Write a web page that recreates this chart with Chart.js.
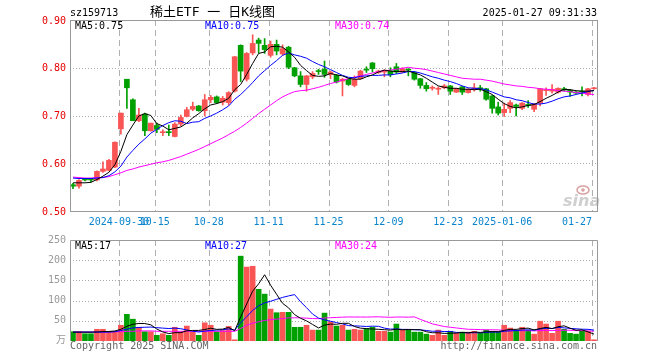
<!DOCTYPE html>
<html><head><meta charset="utf-8">
<script src="https://cdn.jsdelivr.net/npm/chart.js@4.4.1/dist/chart.umd.min.js"></script>
<style>
html,body{margin:0;padding:0;background:#fff;}
#wrap{position:relative;width:660px;height:360px;background:#fff;}
canvas{position:absolute;left:0;top:0;}
</style></head><body>
<div id="wrap"><canvas id="pc" width="660" height="360"></canvas><canvas id="vc" width="660" height="360"></canvas></div>
<script>
const dates = ['2024-09-18','2024-09-19','2024-09-20','2024-09-23','2024-09-24','2024-09-25','2024-09-26','2024-09-27','2024-09-30','2024-10-08',
'2024-10-09','2024-10-10','2024-10-11','2024-10-14','2024-10-15','2024-10-16','2024-10-17','2024-10-18','2024-10-21','2024-10-22',
'2024-10-23','2024-10-24','2024-10-25','2024-10-28','2024-10-29','2024-10-30','2024-10-31','2024-11-01','2024-11-04','2024-11-05',
'2024-11-06','2024-11-07','2024-11-08','2024-11-11','2024-11-12','2024-11-13','2024-11-14','2024-11-15','2024-11-18','2024-11-19',
'2024-11-20','2024-11-21','2024-11-22','2024-11-25','2024-11-26','2024-11-27','2024-11-28','2024-11-29','2024-12-02','2024-12-03',
'2024-12-04','2024-12-05','2024-12-06','2024-12-09','2024-12-10','2024-12-11','2024-12-12','2024-12-13','2024-12-16','2024-12-17',
'2024-12-18','2024-12-19','2024-12-20','2024-12-23','2024-12-24','2024-12-25','2024-12-26','2024-12-27','2024-12-30','2024-12-31',
'2025-01-02','2025-01-03','2025-01-06','2025-01-07','2025-01-08','2025-01-09','2025-01-10','2025-01-13','2025-01-14','2025-01-15',
'2025-01-16','2025-01-17','2025-01-20','2025-01-21','2025-01-22','2025-01-23','2025-01-24','2025-01-27'];

const openP = [0.555,0.552,0.567,0.566,0.565,0.583,0.585,0.592,0.672,0.776,
0.733,0.689,0.703,0.668,0.679,0.664,0.666,0.656,0.682,0.698,
0.713,0.720,0.710,0.733,0.739,0.728,0.727,0.751,0.847,0.776,
0.831,0.858,0.847,0.826,0.849,0.829,0.843,0.800,0.783,0.765,
0.781,0.794,0.797,0.786,0.784,0.772,0.776,0.763,0.777,0.797,
0.810,0.790,0.791,0.793,0.802,0.791,0.796,0.790,0.777,0.763,
0.757,0.755,0.758,0.762,0.749,0.760,0.748,0.755,0.758,0.756,
0.741,0.718,0.706,0.715,0.722,0.715,0.722,0.713,0.726,0.752,
0.751,0.749,0.756,0.753,0.749,0.750,0.744,0.756];
const highP = [0.558,0.566,0.568,0.568,0.584,0.603,0.608,0.645,0.705,0.776,
0.735,0.715,0.705,0.684,0.684,0.670,0.680,0.685,0.701,0.717,
0.728,0.721,0.744,0.742,0.741,0.740,0.750,0.824,0.848,0.832,
0.869,0.862,0.861,0.856,0.858,0.848,0.845,0.801,0.792,0.784,
0.792,0.797,0.814,0.793,0.786,0.778,0.778,0.783,0.795,0.802,
0.811,0.795,0.796,0.800,0.809,0.800,0.798,0.792,0.778,0.769,
0.762,0.760,0.765,0.763,0.757,0.761,0.756,0.767,0.763,0.757,
0.742,0.728,0.726,0.731,0.724,0.727,0.731,0.725,0.757,0.758,
0.765,0.758,0.759,0.755,0.750,0.760,0.757,0.759];
const lowP = [0.547,0.548,0.563,0.561,0.563,0.581,0.584,0.591,0.661,0.715,
0.689,0.687,0.658,0.667,0.664,0.658,0.658,0.655,0.678,0.697,
0.710,0.709,0.699,0.727,0.725,0.722,0.722,0.749,0.771,0.772,
0.827,0.831,0.830,0.822,0.827,0.826,0.798,0.781,0.760,0.751,
0.777,0.786,0.780,0.777,0.768,0.741,0.763,0.760,0.776,0.790,
0.791,0.788,0.781,0.781,0.788,0.790,0.783,0.774,0.757,0.751,
0.753,0.744,0.756,0.744,0.748,0.744,0.747,0.751,0.751,0.732,
0.705,0.701,0.698,0.706,0.699,0.712,0.717,0.708,0.720,0.742,
0.747,0.747,0.751,0.740,0.746,0.741,0.741,0.755];
const closeP = [0.552,0.564,0.565,0.565,0.583,0.588,0.606,0.644,0.705,0.758,
0.689,0.701,0.668,0.684,0.671,0.665,0.664,0.682,0.696,0.712,
0.719,0.710,0.733,0.738,0.727,0.736,0.748,0.823,0.793,0.830,
0.851,0.851,0.838,0.849,0.835,0.840,0.801,0.783,0.765,0.783,
0.788,0.792,0.786,0.791,0.770,0.776,0.765,0.776,0.793,0.795,
0.798,0.793,0.794,0.786,0.791,0.798,0.795,0.776,0.763,0.756,
0.759,0.757,0.762,0.751,0.756,0.749,0.755,0.758,0.756,0.734,
0.715,0.705,0.713,0.727,0.719,0.726,0.721,0.724,0.756,0.754,
0.755,0.757,0.753,0.749,0.747,0.749,0.756,0.758];
const ma5 = [0.559,0.559,0.559,0.560,0.566,0.573,0.581,0.597,0.625,0.660,
0.680,0.699,0.704,0.700,0.683,0.678,0.670,0.673,0.676,0.684,
0.695,0.704,0.714,0.722,0.725,0.729,0.736,0.754,0.765,0.786,
0.809,0.830,0.833,0.844,0.845,0.843,0.833,0.822,0.805,0.794,
0.784,0.782,0.783,0.788,0.785,0.783,0.778,0.776,0.776,0.781,
0.785,0.791,0.795,0.793,0.792,0.792,0.793,0.789,0.785,0.778,
0.770,0.762,0.759,0.757,0.757,0.755,0.755,0.754,0.755,0.750,
0.744,0.734,0.725,0.719,0.716,0.718,0.721,0.723,0.729,0.736,
0.742,0.749,0.755,0.754,0.752,0.751,0.751,0.752];
const ma10 = [0.569,0.568,0.568,0.568,0.569,0.570,0.574,0.582,0.594,0.613,
0.627,0.640,0.651,0.663,0.671,0.679,0.685,0.689,0.688,0.683,
0.686,0.687,0.694,0.699,0.705,0.712,0.720,0.734,0.744,0.756,
0.769,0.783,0.794,0.805,0.815,0.826,0.831,0.827,0.824,0.820,
0.813,0.807,0.802,0.796,0.790,0.784,0.780,0.779,0.782,0.783,
0.784,0.784,0.785,0.785,0.787,0.789,0.792,0.792,0.789,0.785,
0.781,0.778,0.774,0.771,0.767,0.762,0.758,0.757,0.756,0.754,
0.749,0.744,0.739,0.737,0.733,0.731,0.727,0.724,0.724,0.726,
0.730,0.735,0.739,0.741,0.744,0.747,0.750,0.753];
const ma30 = [0.571,0.570,0.569,0.569,0.570,0.570,0.572,0.576,0.580,0.585,
0.588,0.592,0.595,0.598,0.601,0.603,0.606,0.610,0.614,0.619,
0.624,0.629,0.635,0.641,0.647,0.653,0.660,0.667,0.675,0.684,
0.694,0.704,0.713,0.722,0.731,0.739,0.745,0.750,0.752,0.753,
0.756,0.759,0.763,0.767,0.770,0.774,0.777,0.780,0.783,0.786,
0.789,0.792,0.794,0.795,0.797,0.799,0.801,0.799,0.798,0.796,
0.793,0.790,0.787,0.784,0.781,0.778,0.777,0.776,0.776,0.774,
0.772,0.769,0.766,0.764,0.762,0.761,0.759,0.758,0.756,0.755,
0.754,0.752,0.751,0.750,0.748,0.747,0.745,0.744];
const volume = [23,23,18,18,29,29,24,24,39,66,
54,34,23,23,14,18,14,34,23,37,
23,14,45,39,23,26,36,3,210,183,
185,128,116,79,70,71,71,34,34,39,
27,27,69,47,37,39,27,29,27,31,
34,24,24,22,42,27,27,22,22,17,
14,27,14,24,19,22,22,24,19,27,
24,22,39,32,27,34,27,17,49,42,
19,49,29,19,17,24,24,3];
const vma5 = [22,22,22,22,22.2,23.4,23.6,24.8,29,36.4,
41.4,43.4,43.2,40,29.6,22.4,18.4,20.6,20.6,25.2,
26.2,26.2,28.4,31.6,28.8,29.4,33.8,25.4,59.6,91.6,
123.4,141.6,164,138,115.6,93.2,82,65.4,56.2,49.8,
41,32.2,39.2,41.8,41.4,43.8,43.8,35.8,31.8,30.6,
29.6,29,28,27,29.2,27.8,28.4,28,28,23,
20.4,20.4,18.8,19.2,19.6,21.2,20.2,22.2,21.2,22.8,
23.2,23.2,26.2,28.8,28.8,30.8,31.8,27.4,30.8,33.8,
30.8,35.2,37.6,31.6,26.6,27.6,22.6,17];
const vma10 = [22,22,22,22,22,22,22,23,26,29.3,
32.4,33.5,34,34.5,33,31.9,30.9,31.9,30.3,27.4,
24.3,22.3,24.5,26.1,27,27.8,30,26.9,45.4,59.8,
75.8,87.2,94.3,98.3,103.2,107.9,111.6,114.9,97.1,82.5,
66.7,56.8,52.1,48.9,45.6,42.4,38,37.5,36.8,36,
36.7,36.4,31.9,29.4,29.9,28.7,28.7,28,27.5,26.1,
24.1,24.4,23.4,23.6,21.3,20.8,20.3,20.5,20.2,21.2,
22.2,21.7,24.2,25,25.8,27,27.5,26.8,29.8,31.3,
30.8,33.5,32.5,31.2,30.2,29.2,28.9,27];
const vma30 = [22,22,22,22,22,22,23,23,23,24,
24,25,25,25,24,24,24,24,24,24,
24,24,24,24,24,24,24,24,31,39,
44.2,47.6,50.8,52.9,54.2,55.6,57.2,57.5,57.4,56.5,
55.6,55.3,56.9,57.7,58.4,59,59.5,59.3,59.4,59.2,
59.6,59.9,59.2,58.7,59.3,59.3,59,59.7,53.5,48.1,
42.4,39.1,35.8,34,32.3,30.6,29,28.7,28.2,27.8,
27.7,27.5,26.5,26,25.7,25.5,25.5,25.1,25.8,26.2,
25.7,26.5,26.7,26.6,25.8,25.7,25.1,24.4];

const tickDates = ['2024-09-30','2024-10-15','2024-10-28','2024-11-11','2024-11-25','2024-12-09','2024-12-23','2025-01-06','2025-01-27'];
const tickText = ['2024-09-30','10-15','10-28','11-11','11-25','12-09','12-23','2025-01-06','01-27'];
const priceTicks = [0.50,0.60,0.70,0.80,0.90];
const volTicks = [50,100,150,200,250];

const RED = '#fa5555', GREEN = '#00a000';
const MONO = '"DejaVu Sans Mono", "Liberation Mono", monospace';
const cols = closeP.map((c,i)=> c >= openP[i] ? RED : GREEN);
const bodies = closeP.map((c,i)=>[Math.min(openP[i],c), Math.max(openP[i],c)]);
const wicks = highP.map((h,i)=>[lowP[i], h]);
const tickIdx = tickDates.map(d=>dates.indexOf(d));
const cr = v => Math.round(v) + 0.5;
const last = dates.length - 1;

function vGrid(chart){
  const {ctx, chartArea:a, scales:{x}} = chart;
  ctx.save();
  ctx.strokeStyle = '#b0b0b0'; ctx.lineWidth = 1; ctx.setLineDash([6,4]);
  tickIdx.forEach(i=>{
    const px = cr(x.getPixelForValue(i) - 2);
    ctx.beginPath(); ctx.moveTo(px, a.top); ctx.lineTo(px, a.bottom); ctx.stroke();
  });
  ctx.restore();
}
function hGrid(chart, vals){
  const {ctx, chartArea:a, scales:{y}} = chart;
  ctx.save();
  ctx.strokeStyle = '#aaaaaa'; ctx.lineWidth = 1; ctx.setLineDash([1,2]);
  vals.forEach(v=>{
    const py = cr(y.getPixelForValue(v));
    ctx.beginPath(); ctx.moveTo(a.left, py); ctx.lineTo(a.right, py); ctx.stroke();
  });
  ctx.restore();
}
function txt(ctx, s, x, y, color, align, font){
  ctx.fillStyle = color; ctx.textAlign = align || 'left'; ctx.textBaseline = 'middle';
  ctx.font = font || ('10px ' + MONO);
  ctx.fillText(s, x, y);
}

const pricePlugin = {
  id:'priceDeco',
  beforeDatasetsDraw(chart){
    hGrid(chart, priceTicks.slice(1, -1));
    vGrid(chart);
  },
  afterDraw(chart){
    const {ctx, chartArea:a, scales:{x,y}} = chart;
    ctx.save();
    // watermark
    ctx.fillStyle = '#cfcfcf';
    ctx.font = 'italic bold 16px "DejaVu Sans", sans-serif';
    ctx.textAlign = 'left'; ctx.textBaseline = 'alphabetic';
    ctx.fillText('sina', 563, 206);
    ctx.strokeStyle = '#d8a0a0'; ctx.lineWidth = 1.5;
    ctx.beginPath(); ctx.ellipse(583, 190, 6, 4, 0, 0, Math.PI*2); ctx.stroke();
    ctx.fillStyle = '#d8a0a0'; ctx.beginPath(); ctx.arc(583, 190, 1.8, 0, Math.PI*2); ctx.fill();
    // border
    ctx.strokeStyle = '#999'; ctx.lineWidth = 1; ctx.setLineDash([]);
    ctx.strokeRect(cr(a.left), cr(a.top), Math.round(a.right - a.left), Math.round(a.bottom - a.top));
    // y labels
    priceTicks.forEach(v=> txt(ctx, v.toFixed(2), 66, y.getPixelForValue(v) + 1, '#e60000', 'right'));
    // x labels
    tickIdx.forEach((i,k)=>{
      const px = x.getPixelForValue(i) - 2;
      const isLast = k === tickIdx.length - 1;
      txt(ctx, tickText[k], isLast ? px : px, 222, '#0a84cc', isLast ? 'right' : 'center');
    });
    // header
    txt(ctx, 'sz159713', 70, 13, '#000');
    txt(ctx, '稀土ETF 一 日K线图', 150, 13, '#000', 'left', '13px ' + MONO + ', "Noto Sans CJK SC"');
    txt(ctx, '2025-01-27 09:31:33', 597, 13, '#000', 'right');
    // MA labels
    txt(ctx, 'MA5:' + ma5[last].toFixed(2), 75, 26, '#000');
    txt(ctx, 'MA10:' + ma10[last].toFixed(2), 205, 26, '#0000ff');
    txt(ctx, 'MA30:' + ma30[last].toFixed(2), 335, 26, '#ff00ff');
    ctx.restore();
  }
};

const volPlugin = {
  id:'volDeco',
  beforeDatasetsDraw(chart){
    hGrid(chart, volTicks.slice(0, -1));
    vGrid(chart);
  },
  afterDraw(chart){
    const {ctx, chartArea:a, scales:{y}} = chart;
    ctx.save();
    ctx.strokeStyle = '#999'; ctx.lineWidth = 1;
    ctx.beginPath();
    ctx.moveTo(cr(a.left), a.bottom); ctx.lineTo(cr(a.left), cr(a.top));
    ctx.lineTo(cr(a.right), cr(a.top)); ctx.lineTo(cr(a.right), a.bottom);
    ctx.stroke();
    volTicks.forEach(v=> txt(ctx, String(v), 66, y.getPixelForValue(v), '#999', 'right'));
    txt(ctx, '万', 66, 340, '#999', 'right', '10px ' + MONO + ', "Noto Sans CJK SC"');
    txt(ctx, 'MA5:' + Math.round(vma5[last]), 75, 246, '#000');
    txt(ctx, 'MA10:' + Math.round(vma10[last]), 205, 246, '#0000ff');
    txt(ctx, 'MA30:' + Math.round(vma30[last]), 335, 246, '#ff00ff');
    txt(ctx, 'Copyright 2025 SINA.COM', 70, 346, '#666');
    txt(ctx, 'http://finance.sina.com.cn', 597, 346, '#666', 'right');
    ctx.restore();
  }
};

function lineDs(data, color){
  return {type:'line', data, borderColor:color, borderWidth:1, pointRadius:0, tension:0, fill:false, order:1};
}
const common = {
  responsive:false, animation:false, events:[],
  plugins:{legend:{display:false}, tooltip:{enabled:false}}
};

new Chart(document.getElementById('pc'), {
  type:'bar',
  data:{labels:dates, datasets:[
    lineDs(ma5,'#000000'), lineDs(ma10,'#0000ff'), lineDs(ma30,'#ff00ff'),
    {type:'bar', data:wicks, backgroundColor:cols, barThickness:1, grouped:false, order:3},
    {type:'bar', data:bodies, backgroundColor:cols, barThickness:5, minBarLength:1, grouped:false, order:2}
  ]},
  options:Object.assign({}, common, {
    layout:{padding:{left:70, right:63, top:20, bottom:149}},
    scales:{x:{display:false, offset:true}, y:{display:false, min:0.5, max:0.9}}
  }),
  plugins:[pricePlugin]
});

new Chart(document.getElementById('vc'), {
  type:'bar',
  data:{labels:dates, datasets:[
    lineDs(vma5,'#000000'), lineDs(vma10,'#0000ff'), lineDs(vma30,'#ff00ff'),
    {type:'bar', data:volume, backgroundColor:cols, barThickness:5, grouped:false, order:2}
  ]},
  options:Object.assign({}, common, {
    layout:{padding:{left:70, right:63, top:240, bottom:19}},
    scales:{x:{display:false, offset:true}, y:{display:false, min:0, max:250}}
  }),
  plugins:[volPlugin]
});
</script>
</body></html>
